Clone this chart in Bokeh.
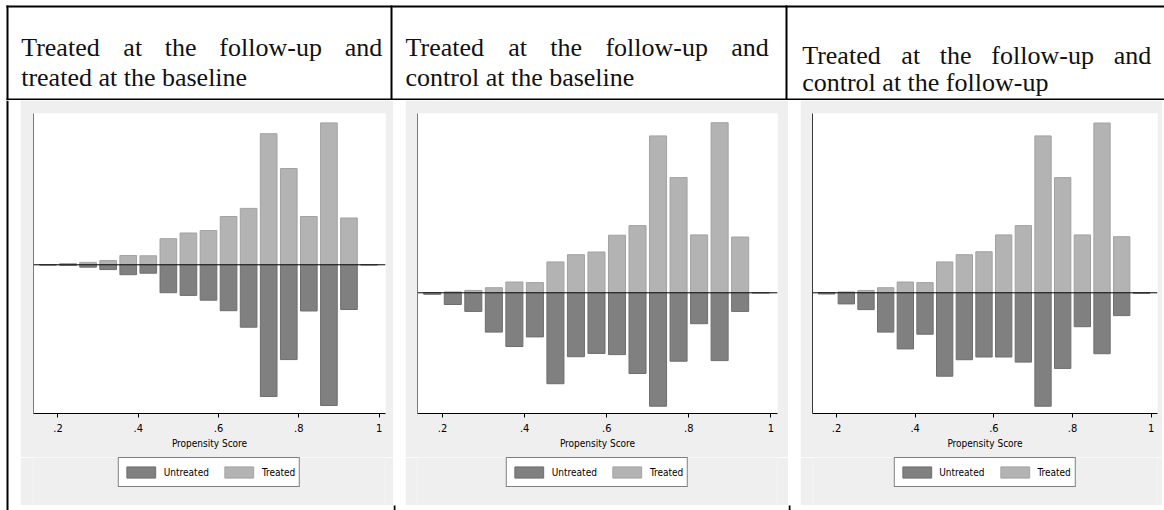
from bokeh.plotting import figure
from bokeh.models import Range1d, ColumnDataSource, Span, Legend, LegendItem, FixedTicker
from bokeh.layouts import row, column
from bokeh.embed import file_html
from bokeh.resources import INLINE
from bokeh.core.properties import value

# ---------------- data ----------------
bin_centers = [0.175, 0.225, 0.275, 0.325, 0.375, 0.425, 0.475, 0.525, 0.575,
               0.625, 0.675, 0.725, 0.775, 0.825, 0.875, 0.925, 0.975]

treated_1 = [0.01, 0.04, 0.08, 0.14, 0.31, 0.30, 0.87, 1.06, 1.14, 1.61, 1.88,
             4.37, 3.21, 1.61, 4.73, 1.56, 0.0]
untreated_1 = [0.01, 0.02, 0.08, 0.16, 0.33, 0.28, 0.93, 1.02, 1.18, 1.53, 2.08,
               4.39, 3.16, 1.54, 4.69, 1.49, 0.0]

treated_2 = [0.0, 0.03, 0.08, 0.17, 0.36, 0.34, 1.03, 1.27, 1.36, 1.92, 2.24,
             5.23, 3.84, 1.93, 5.67, 1.86, 0.0]
untreated_2 = [0.05, 0.39, 0.62, 1.31, 1.79, 1.47, 3.03, 2.13, 2.02, 2.06, 2.69,
               3.78, 2.28, 1.03, 2.26, 0.62, 0.0]

treated_3 = [0.0, 0.03, 0.08, 0.17, 0.36, 0.34, 1.03, 1.27, 1.37, 1.93, 2.24,
             5.23, 3.84, 1.93, 5.66, 1.87, 0.0]
untreated_3 = [0.04, 0.37, 0.56, 1.31, 1.87, 1.38, 2.78, 2.23, 2.14, 2.14, 2.31,
               3.78, 2.52, 1.13, 2.03, 0.76, 0.02]

tick_values = [0.2, 0.4, 0.6, 0.8, 1.0]
tick_labels = [".2", ".4", ".6", ".8", "1"]
series_labels = ["Untreated", "Treated"]
x_label = "Propensity Score"

header_line1 = ["Treated at the follow-up and",
                "Treated at the follow-up and",
                "Treated at the follow-up and"]
header_line2 = ["treated at the baseline",
                "control at the baseline",
                "control at the follow-up"]

# ---------------- style ----------------
C_UNTR = "#808080"
C_TREA = "#b3b3b3"
L_UNTR = "#6e6e6e"
L_TREA = "#a2a2a2"
BG = "#efefef"
SANS = "DejaVu Sans Condensed, Liberation Sans, sans-serif"
SERIF = "Liberation Serif"

# Times advance widths (per 1000 em) for justified header text
TW = {"T": 611, "r": 333, "e": 444, "a": 444, "t": 278, "d": 500, "h": 500,
      "f": 333, "o": 500, "l": 278, "w": 722, "-": 333, "u": 500, "p": 500,
      "n": 500, "c": 444, "b": 500, "s": 389, "i": 278, " ": 250}
HFS = 26


def word_width(w):
    return sum(TW.get(ch, 500) for ch in w) * HFS / 1000.0


# ---------------- header ----------------
hdr = figure(output_backend="svg", toolbar_location=None, width=1164, height=100,
             x_range=Range1d(0, 1164), y_range=Range1d(100, 0), min_border=0,
             x_axis_type=None, y_axis_type=None, outline_line_color=None,
             background_fill_color="white", border_fill_color="white")
hdr.grid.visible = False

# table rules
hdr.quad(left=[6, 6, 6, 390, 785], right=[1164, 8, 1164, 392, 787],
         top=[5, 5, 98, 5, 5], bottom=[7, 100, 100, 100, 100],
         fill_color="black", line_color=None)

col_left = [20.7, 405.0, 801.7]
col_right = [381.7, 768.3, 1150.7]
base1 = [46.7, 46.7, 54.5]
base2 = [77.3, 77.3, 81.8]

wx, wy, wt = [], [], []
for i in range(3):
    words = header_line1[i].split(" ")
    widths = [word_width(w) for w in words]
    gap = (col_right[i] - col_left[i] - sum(widths)) / (len(words) - 1)
    x = col_left[i]
    for w, ww in zip(words, widths):
        wx.append(x)
        wy.append(base1[i])
        wt.append(w)
        x += ww + gap
    wx.append(col_left[i])
    wy.append(base2[i])
    wt.append(header_line2[i])

hdr.text(x=wx, y=wy, text=wt, text_font=value(SERIF), text_font_size=f"{HFS}px",
         text_baseline="alphabetic", text_align="left", text_color="#111111")


# ---------------- charts ----------------
def make_chart(treated, untreated, y_lo, y_hi, frame_w, bl, br, yaxis_col):
    src = ColumnDataSource(dict(x=bin_centers, t=treated,
                                u=[-v for v in untreated]))
    p = figure(output_backend="svg", toolbar_location=None,
               width=bl + frame_w + br, height=357,
               min_border_left=bl, min_border_right=br,
               min_border_top=13, min_border_bottom=44,
               x_range=Range1d(0.139, 1.016), y_range=Range1d(y_lo, y_hi),
               background_fill_color="white", border_fill_color=BG,
               outline_line_color=None)
    p.grid.visible = False

    p.vbar(x="x", width=0.0415, top=0, bottom="u", source=src,
           fill_color=C_UNTR, line_color=L_UNTR, line_width=1)
    p.vbar(x="x", width=0.0415, top="t", bottom=0, source=src,
           fill_color=C_TREA, line_color=L_TREA, line_width=1)
    p.add_layout(Span(location=0, dimension="width", line_color="black",
                      line_width=1))

    xa = p.xaxis[0]
    xa.ticker = FixedTicker(ticks=tick_values, minor_ticks=[])
    xa.major_label_overrides = {v: s for v, s in zip(tick_values, tick_labels)}
    xa.axis_label = x_label
    xa.axis_label_text_font = SANS
    xa.axis_label_text_font_style = "normal"
    xa.axis_label_text_font_size = "10px"
    xa.axis_label_text_color = "black"
    xa.axis_label_standoff = 3
    xa.major_label_text_font = SANS
    xa.major_label_text_font_size = "11px"
    xa.major_label_text_color = "black"
    xa.major_label_standoff = 6
    xa.major_tick_out = 4
    xa.major_tick_in = 0
    xa.minor_tick_out = 0
    xa.axis_line_color = "black"
    xa.major_tick_line_color = "black"

    ya = p.yaxis[0]
    ya.ticker = FixedTicker(ticks=[], minor_ticks=[])
    ya.major_tick_out = 0
    ya.major_tick_in = 0
    ya.minor_tick_out = 0
    ya.major_label_text_font_size = "0px"
    ya.major_label_standoff = 0
    ya.axis_line_color = yaxis_col

    # legend panel (gray, continues the chart background); the series are
    # re-used here only as legend keys and fall outside this panel's ranges
    lg = figure(output_backend="svg", toolbar_location=None,
                width=bl + frame_w + br, height=48, min_border=0,
                x_range=Range1d(10, 11), y_range=Range1d(10, 11),
                x_axis_type=None, y_axis_type=None, outline_line_color=None,
                background_fill_color=BG, border_fill_color=BG)
    lg.grid.visible = False
    ru = lg.vbar(x="x", width=0.0415, top=0, bottom="u", source=src,
                 fill_color=C_UNTR, line_color=L_UNTR, line_width=1)
    rt = lg.vbar(x="x", width=0.0415, top="t", bottom=0, source=src,
                 fill_color=C_TREA, line_color=L_TREA, line_width=1)
    leg = Legend(items=[LegendItem(label=series_labels[0], renderers=[ru]),
                        LegendItem(label=series_labels[1], renderers=[rt])],
                 location="bottom_center", orientation="horizontal",
                 glyph_width=36, glyph_height=14, label_height=20,
                 label_standoff=5, spacing=12, padding=4, margin=18,
                 label_text_font=SANS, label_text_font_size="10px",
                 label_text_color="black",
                 border_line_color="black", border_line_width=1,
                 background_fill_color="white", background_fill_alpha=1.0)
    lg.add_layout(leg)
    return column(p, lg, spacing=0)


ch1 = make_chart(treated_1, untreated_1, -4.957, 5.043, 352, 13, 8, "#7a7a7a")
ch2 = make_chart(treated_2, untreated_2, -4.023, 5.977, 360, 12, 11, "#7a7a7a")
ch3 = make_chart(treated_3, untreated_3, -4.023, 5.977, 345, 12, 5, "#3a3a3a")


def strip(w, lefts, rights, tops, bottoms):
    s = figure(output_backend="svg", toolbar_location=None, width=w, height=410,
               x_range=Range1d(0, w), y_range=Range1d(410, 0), min_border=0,
               x_axis_type=None, y_axis_type=None, outline_line_color=None,
               background_fill_color="white", border_fill_color="white")
    s.grid.visible = False
    s.quad(left=lefts, right=rights, top=tops, bottom=bottoms,
           fill_color="black", line_color=None)
    return s


left_strip = strip(20, [6], [8], [0], [410])
gap1 = strip(12, [0], [2], [405], [410])
gap2 = strip(12, [0], [2], [405], [410])

layout = column(hdr, row(left_strip, ch1, gap1, ch2, gap2, ch3, spacing=0),
                spacing=0)

open("out.html", "w").write(file_html(layout, INLINE))
